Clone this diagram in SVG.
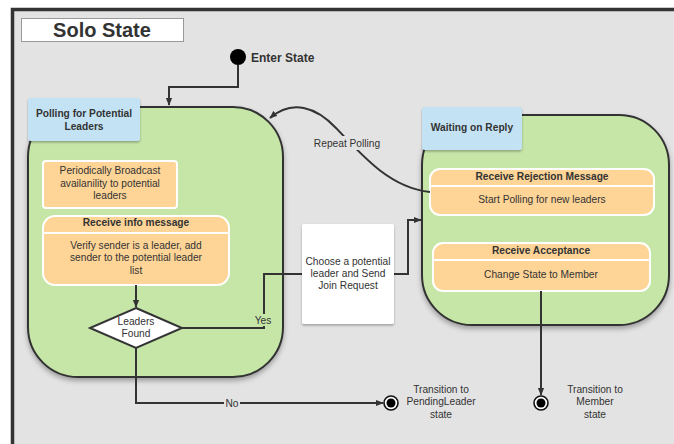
<svg xmlns="http://www.w3.org/2000/svg" width="674" height="444" viewBox="0 0 674 444">
  <defs>
    <filter id="shadow" x="-10%" y="-10%" width="120%" height="130%">
      <feDropShadow dx="0" dy="3" stdDeviation="2.5" flood-color="#000" flood-opacity="0.3"/>
    </filter>
    <filter id="shadowSm" x="-10%" y="-10%" width="120%" height="130%">
      <feDropShadow dx="0" dy="1.5" stdDeviation="1.2" flood-color="#000" flood-opacity="0.3"/>
    </filter>
    <marker id="arrow" viewBox="0 0 10 10" refX="9" refY="5" markerWidth="8" markerHeight="8" markerUnits="userSpaceOnUse" orient="auto">
      <path d="M0,1 L10,5 L0,9 z" fill="#333"/>
    </marker>
  </defs>
  <style>
    text { font-family: "Liberation Sans", Arial, sans-serif; fill: #333; }
    .t { font-size: 10.2px; text-anchor: middle; }
    .b { font-size: 10.2px; font-weight: bold; text-anchor: middle; }
    .state { fill: #c6e6a8; stroke: #333; stroke-width: 2; }
    .tag { fill: #c3e3f5; }
    .act { fill: #fed597; stroke: #fff; stroke-width: 2; }
    .div { stroke: #fff; stroke-width: 2; }
    .wire { fill: none; stroke: #333; stroke-width: 2; }
    .gap { fill: #e3e3e3; }
    .gap-green { fill: #c6e6a8; }
  </style>

  <!-- canvas -->
  <rect x="0" y="0" width="674" height="444" fill="#fff"/>
  <rect x="12.5" y="9.5" width="700" height="500" fill="#e3e3e3" stroke="#333" stroke-width="3.5"/>

  <!-- title -->
  <g id="title">
    <rect x="21.5" y="18.5" width="162" height="23" fill="#fff" stroke="#999" stroke-width="1"/>
    <text x="102" y="37" font-size="20" font-weight="bold" text-anchor="middle">Solo State</text>
  </g>

  <!-- initial node -->
  <g id="enter-state">
    <circle cx="238" cy="57" r="8" fill="#000"/>
    <text x="251" y="61.5" font-size="12" font-weight="bold">Enter State</text>
  </g>

  <!-- polling state -->
  <g id="polling">
    <rect class="state" x="28" y="107" width="255" height="270" rx="50" filter="url(#shadow)"/>
    <rect class="tag" x="28" y="98" width="112" height="43" rx="3" filter="url(#shadowSm)"/>
    <text class="b" x="84" y="116.5">Polling for Potential</text>
    <text class="b" x="84" y="129.5">Leaders</text>
  </g>

  <g id="broadcast">
    <rect class="act" x="43" y="161" width="134" height="47" rx="3"/>
    <text class="t" x="110" y="174.3">Periodically Broadcast</text>
    <text class="t" x="110" y="186.6">availanility to potential</text>
    <text class="t" x="110" y="199.3">leaders</text>
  </g>

  <g id="receive-info">
    <rect class="act" x="43" y="216" width="186" height="69" rx="12"/>
    <line class="div" x1="44" y1="233" x2="228" y2="233"/>
    <text class="b" x="136" y="226.3">Receive info message</text>
    <text class="t" x="136" y="249.3">Verify sender is a leader, add</text>
    <text class="t" x="136" y="261">sender to the potential leader</text>
    <text class="t" x="136" y="273.6">list</text>
  </g>

  <g id="leaders-found">
    <polygon points="136,308 182,328 136,348 90,328" fill="#fff" stroke="#333" stroke-width="2"/>
    <text class="t" x="136" y="324.6">Leaders</text>
    <text class="t" x="136" y="336.6">Found</text>
  </g>

  <!-- send request -->
  <g id="send-request">
    <rect x="302" y="224" width="92" height="100" rx="2" fill="#fff" filter="url(#shadowSm)"/>
    <text class="t" x="348" y="265.3">Choose a potential</text>
    <text class="t" x="348" y="276.6">leader and Send</text>
    <text class="t" x="348" y="289.3">Join Request</text>
  </g>

  <!-- waiting state -->
  <g id="waiting">
    <rect class="state" x="422" y="115" width="247" height="210" rx="50" filter="url(#shadow)"/>
    <rect class="tag" x="422" y="107" width="100" height="43" rx="3" filter="url(#shadowSm)"/>
    <text class="b" x="472" y="131">Waiting on Reply</text>
  </g>

  <g id="rejection">
    <rect class="act" x="430" y="169" width="224" height="46" rx="10"/>
    <line class="div" x1="431" y1="186" x2="653" y2="186"/>
    <text class="b" x="542" y="179.7">Receive Rejection Message</text>
    <text class="t" x="542" y="202.6">Start Polling for new leaders</text>
  </g>

  <g id="acceptance">
    <rect class="act" x="433" y="243" width="217" height="48" rx="10"/>
    <line class="div" x1="434" y1="260" x2="649" y2="260"/>
    <text class="b" x="541" y="253.6">Receive Acceptance</text>
    <text class="t" x="541" y="277.6">Change State to Member</text>
  </g>

  <!-- final nodes -->
  <g id="to-pending-leader">
    <circle cx="391" cy="403" r="7" fill="#fff" stroke="#111" stroke-width="1.6"/>
    <circle cx="391" cy="403" r="4.5" fill="#000"/>
    <text class="t" x="441" y="392.6">Transition to</text>
    <text class="t" x="441" y="405.3">PendingLeader</text>
    <text class="t" x="441" y="417.6">state</text>
  </g>

  <g id="to-member">
    <circle cx="541" cy="403" r="7" fill="#fff" stroke="#111" stroke-width="1.6"/>
    <circle cx="541" cy="403" r="4.5" fill="#000"/>
    <text class="t" x="595" y="392.6">Transition to</text>
    <text class="t" x="595" y="405.3">Member</text>
    <text class="t" x="595" y="417.6">state</text>
  </g>

  <!-- connectors -->
  <g id="connectors">
    <path class="wire" d="M238,65 V87 H169 V105" marker-end="url(#arrow)"/>
    <path class="wire" d="M136,285 V307" marker-end="url(#arrow)"/>
    <path class="wire" d="M182,328 H264 V274 H302"/>
    <path class="wire" d="M394,274 H408 V220 H421" marker-end="url(#arrow)"/>
    <path class="wire" d="M136,348 V403 H383" marker-end="url(#arrow)"/>
    <path class="wire" d="M541,291 V395" marker-end="url(#arrow)"/>
    <path class="wire" d="M430,192 C392,188 366,160 336,128 C316,107 292,99 270,118" marker-end="url(#arrow)"/>

    <rect class="gap" x="311" y="136" width="72" height="14"/>
    <text class="t" x="347" y="146.5">Repeat Polling</text>
    <rect class="gap-green" x="255" y="314" width="18" height="12"/>
    <text class="t" x="263" y="324">Yes</text>
    <rect class="gap" x="224" y="397" width="16" height="12"/>
    <text class="t" x="232" y="406.5">No</text>
  </g>
</svg>
